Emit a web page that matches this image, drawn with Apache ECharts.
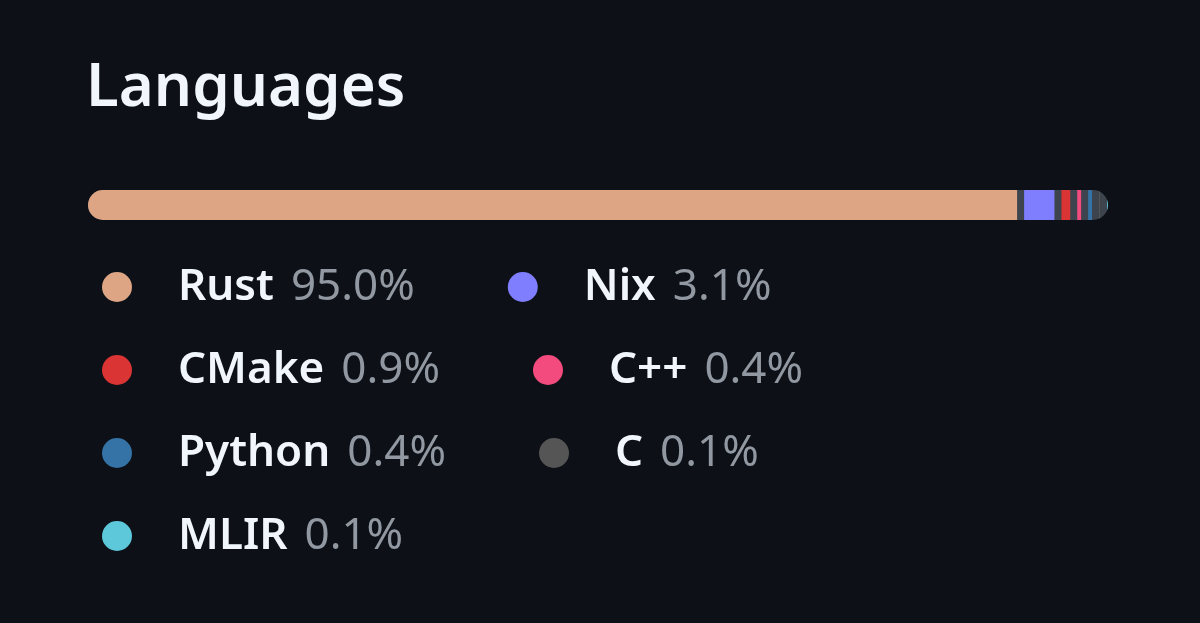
<!DOCTYPE html>
<html>
<head>
<meta charset="utf-8">
<script src="https://cdn.jsdelivr.net/npm/echarts@6/dist/echarts.min.js"></script>
<style>
  html, body { margin: 0; padding: 0; background: #0d1117; }
  #main { width: 1200px; height: 623px; }
</style>
</head>
<body>
<div id="main"></div>
<script>
// languages of the repo, share in percent
var languages = ['Rust', 'Nix', 'CMake', 'C++', 'Python', 'C', 'MLIR'];
var shares = [95.0, 3.1, 0.9, 0.4, 0.4, 0.1, 0.1];
var colors = ['#dea584', '#7e7eff', '#da3434', '#f34b7d', '#3572a5', '#555555', '#5ec8db'];

var GAP = 7;     // px between segments (the track shows through)
var BAR_H = 30;

var chart = echarts.init(document.getElementById('main'));

// segments are shrunk a bit so the gaps fit inside the track, like a flex row
function renderSeg(params, api) {
  var start = api.value(0), val = api.value(1), idx = api.value(2);
  var p0 = api.coord([0, 0]), p1 = api.coord([100, 0]);
  var full = p1[0] - p0[0];
  var k = (full - GAP * (languages.length - 1)) / full;
  var x = p0[0] + full * start / 100 * k + idx * GAP;
  var w = Math.max(full * val / 100 * k, 1);
  var top = p0[1] - BAR_H / 2;
  return {
    type: 'rect',
    shape: { x: x, y: top, width: w, height: BAR_H },
    style: { fill: api.visual('color') },
    // keep everything inside the rounded track
    clipPath: {
      type: 'rect',
      shape: { x: p0[0], y: top, width: full, height: BAR_H, r: BAR_H / 2 }
    }
  };
}

var acc = 0;
var segSeries = languages.map(function (name, i) {
  var item = [acc, shares[i], i, 0];
  acc += shares[i];
  return {
    name: name,
    type: 'custom',
    renderItem: renderSeg,
    encode: { x: [0, 1], y: 3 },
    itemStyle: { color: colors[i] },
    data: [item],
    z: 3
  };
});

var option = {
  backgroundColor: '#0d1117',
  textStyle: { fontFamily: 'Noto Sans' },
  title: {
    text: 'Languages',
    left: 81,
    top: 54,
    textStyle: { color: '#f0f6fc', fontSize: 60, fontWeight: 600, fontFamily: 'Noto Sans' }
  },
  grid: { left: 88, right: 92, top: 190, height: BAR_H },
  xAxis: { type: 'value', min: 0, max: 100, show: false },
  yAxis: { type: 'category', data: ['bar'], show: false },
  legend: {
    data: languages,
    left: 102,
    top: 257,
    width: 900,
    padding: 0,
    orient: 'horizontal',
    icon: 'circle',
    itemWidth: 30,
    itemHeight: 30,
    itemGap: 23,
    selectedMode: false,
    formatter: function (name) {
      var v = shares[languages.indexOf(name)];
      return '{n|' + name + '}{p|' + v.toFixed(1) + '%}';
    },
    textStyle: {
      padding: [0, 70, 0, 41],
      lineHeight: 60,
      rich: {
        n: { color: '#f0f6fc', fontSize: 44, fontWeight: 600, fontFamily: 'Noto Sans', lineHeight: 60 },
        p: { color: '#9198a1', fontSize: 44, fontWeight: 400, fontFamily: 'Noto Sans', lineHeight: 60, padding: [0, 0, 0, 17] }
      }
    }
  },
  series: [{
    name: 'track',
    type: 'bar',
    data: [100],
    barWidth: BAR_H,
    silent: true,
    itemStyle: { color: '#3d444d', borderRadius: BAR_H / 2 },
    z: 1
  }].concat(segSeries)
};

chart.setOption(option);
</script>
</body>
</html>
